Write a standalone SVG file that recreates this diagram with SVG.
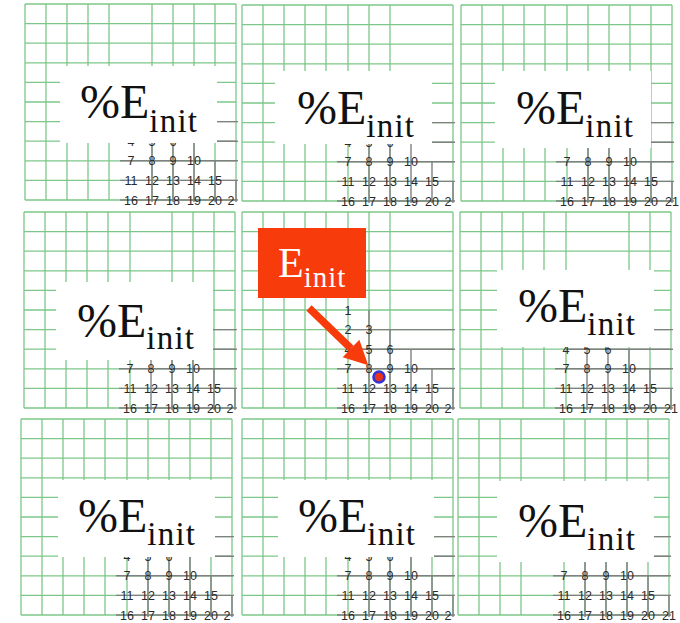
<svg xmlns="http://www.w3.org/2000/svg" xmlns:xlink="http://www.w3.org/1999/xlink" width="680" height="623" viewBox="0 0 680 623">
<style>
.g{stroke:#7cc789;stroke-width:1.3;fill:none}
.k{stroke:#808080;stroke-width:1.4;fill:none}
.n{font-family:"Liberation Sans",Arial,sans-serif;font-size:12.5px;fill:#2a2a2a;text-anchor:middle}
.b{fill:#ffffff}
.l{font-family:"Liberation Serif","Times New Roman",serif;font-size:48px;fill:#111111}
.s{font-size:33px;letter-spacing:1.2px}
.r{fill:#f83b0b}
.w{font-family:"Liberation Serif","Times New Roman",serif;font-size:42px;fill:#ffffff}
.ws{font-size:29px;letter-spacing:1px}
</style>
<defs>
<path id="hg" class="g" d="M0,0H211M0,19.6H211M0,39.2H211M0,58.8H211M0,78.4H211M0,98H211M0,117.6H211M0,137.2H211M0,156.8H211M0,176.4H211M0,196H211"/>
<path id="kg" class="k" d="M106,117.6H213M106,137.2H213M95,156.8H213M95,176.4H213M95,196H213M127,98V198M148,117.6V198M169,137.2V198M190,156.8V198M211,176.4V198"/>
<g id="nums" class="n">
<text x="106" y="102.5">1</text>
<text x="106" y="122">2</text><text x="127" y="122">3</text>
<text x="106" y="141.7">4</text><text x="127" y="141.7">5</text><text x="148" y="141.7">6</text>
<text x="106" y="161.3">7</text><text x="127" y="161.3">8</text><text x="148" y="161.3">9</text><text x="169" y="161.3">10</text>
<text x="106" y="181">11</text><text x="127" y="181">12</text><text x="148" y="181">13</text><text x="169" y="181">14</text><text x="190" y="181">15</text>
<text x="106" y="200.5">16</text><text x="127" y="200.5">17</text><text x="148" y="200.5">18</text><text x="169" y="200.5">19</text><text x="190" y="200.5">20</text>
</g>
<marker id="ah" markerUnits="userSpaceOnUse" markerWidth="24" markerHeight="24" refX="0" refY="12" orient="auto" overflow="visible">
<path d="M0,0L24,12L0,24z" fill="#f83b0b"/>
</marker>
</defs>

<g id="panel-1" transform="translate(25,4)">
<use href="#hg"/>
<path class="g" d="M0,0V196M21,0V196M42,0V196M63,0V196M84,0V196M127,0V196M148,0V196M169,0V196M190,0V196M211,0V196"/>
<use href="#kg"/><use href="#nums"/>
<text class="n" x="206" y="200.5">2</text>
<rect class="b" x="35" y="62" width="157" height="77"/>
<text class="l" x="55" y="114">%E<tspan class="s" dy="14">init</tspan></text>
</g>

<g id="panel-2" transform="translate(242,5)">
<use href="#hg"/>
<path class="g" d="M0,0V196M21,0V196M42,0V196M63,0V196M84,0V196M106,0V196M127,0V196M148,0V196M211,0V196"/>
<use href="#kg"/><use href="#nums"/>
<text class="n" x="206" y="200.5">2</text>
<rect class="b" x="33" y="66" width="157" height="73"/>
<text class="l" x="55" y="119">%E<tspan class="s" dy="13">init</tspan></text>
</g>

<g id="panel-3" transform="translate(461,5)">
<use href="#hg"/>
<path class="g" d="M0,0V196M21,0V196M42,0V196M63,0V196M84,0V196M106,0V196M127,0V196M148,0V196M169,0V196M190,0V196M211,0V196"/>
<use href="#kg"/><use href="#nums"/>
<text class="n" x="211" y="200.5">21</text>
<rect class="b" x="34" y="66" width="156" height="77"/>
<text class="l" x="55" y="119">%E<tspan class="s" dy="13">init</tspan></text>
</g>

<g id="panel-4" transform="translate(24,212)">
<use href="#hg"/>
<path class="g" d="M0,0V196M21,0V196M42,0V196M63,0V196M84,0V196M106,0V196M148,0V196M169,0V196M190,0V196M211,0V196"/>
<use href="#kg"/><use href="#nums"/>
<text class="n" x="206" y="200.5">2</text>
<rect class="b" x="32" y="70" width="157" height="78"/>
<text class="l" x="53" y="125">%E<tspan class="s" dy="12">init</tspan></text>
</g>

<g id="panel-5" transform="translate(242,212)">
<use href="#hg"/>
<path class="g" d="M0,0V196M21,0V196M42,0V196M63,0V196M84,0V196M106,0V196M127,0V196M148,0V196M211,0V196"/>
<use href="#kg"/><use href="#nums"/>
<text class="n" x="206" y="200.5">2</text>
<rect class="r" x="16" y="16" width="108" height="70"/>
<text class="w" x="36" y="65">E<tspan class="ws" dy="10">init</tspan></text>
</g>

<g id="panel-6" transform="translate(460,212)">
<use href="#hg"/>
<path class="g" d="M0,0V196M21,0V196M42,0V196M63,0V196M84,0V196M106,0V196M169,0V196M190,0V196M211,0V196"/>
<use href="#kg"/><use href="#nums"/>
<text class="n" x="211" y="200.5">21</text>
<rect class="b" x="37" y="58" width="157" height="77"/>
<text class="l" x="58" y="110">%E<tspan class="s" dy="13">init</tspan></text>
</g>

<g id="panel-7" transform="translate(21,419)">
<use href="#hg"/>
<path class="g" d="M0,0V196M21,0V196M42,0V196M63,0V196M84,0V196M106,0V196M127,0V196M148,0V196M169,0V196M190,0V196M211,0V196"/>
<use href="#kg"/><use href="#nums"/>
<text class="n" x="206" y="200.5">2</text>
<rect class="b" x="37" y="61" width="157" height="77"/>
<text class="l" x="57" y="113">%E<tspan class="s" dy="13">init</tspan></text>
</g>

<g id="panel-8" transform="translate(242,419)">
<use href="#hg"/>
<path class="g" d="M0,0V196M21,0V196M42,0V196M63,0V196M84,0V196M106,0V196M127,0V196M148,0V196M169,0V196M190,0V196M211,0V196"/>
<use href="#kg"/><use href="#nums"/>
<text class="n" x="206" y="200.5">2</text>
<rect class="b" x="36" y="61" width="156" height="77"/>
<text class="l" x="56" y="113">%E<tspan class="s" dy="13">init</tspan></text>
</g>

<g id="panel-9" transform="translate(458,419)">
<use href="#hg"/>
<path class="g" d="M0,0V196M21,0V196M42,0V196M63,0V196M106,0V196M127,0V196M148,0V196M169,0V196M190,0V196M211,0V196"/>
<use href="#kg"/><use href="#nums"/>
<text class="n" x="211" y="200.5">21</text>
<rect class="b" x="39" y="62" width="157" height="81"/>
<text class="l" x="60" y="118">%E<tspan class="s" dy="13">init</tspan></text>
</g>

<g id="connectors">
<line x1="309" y1="308" x2="351" y2="348.5" stroke="#f83b0b" stroke-width="7.5" marker-end="url(#ah)"/>
</g>

<g id="point">
<circle cx="379" cy="377" r="5.5" fill="#e8321a" stroke="#3333d6" stroke-width="2.6"/>
</g>
</svg>
